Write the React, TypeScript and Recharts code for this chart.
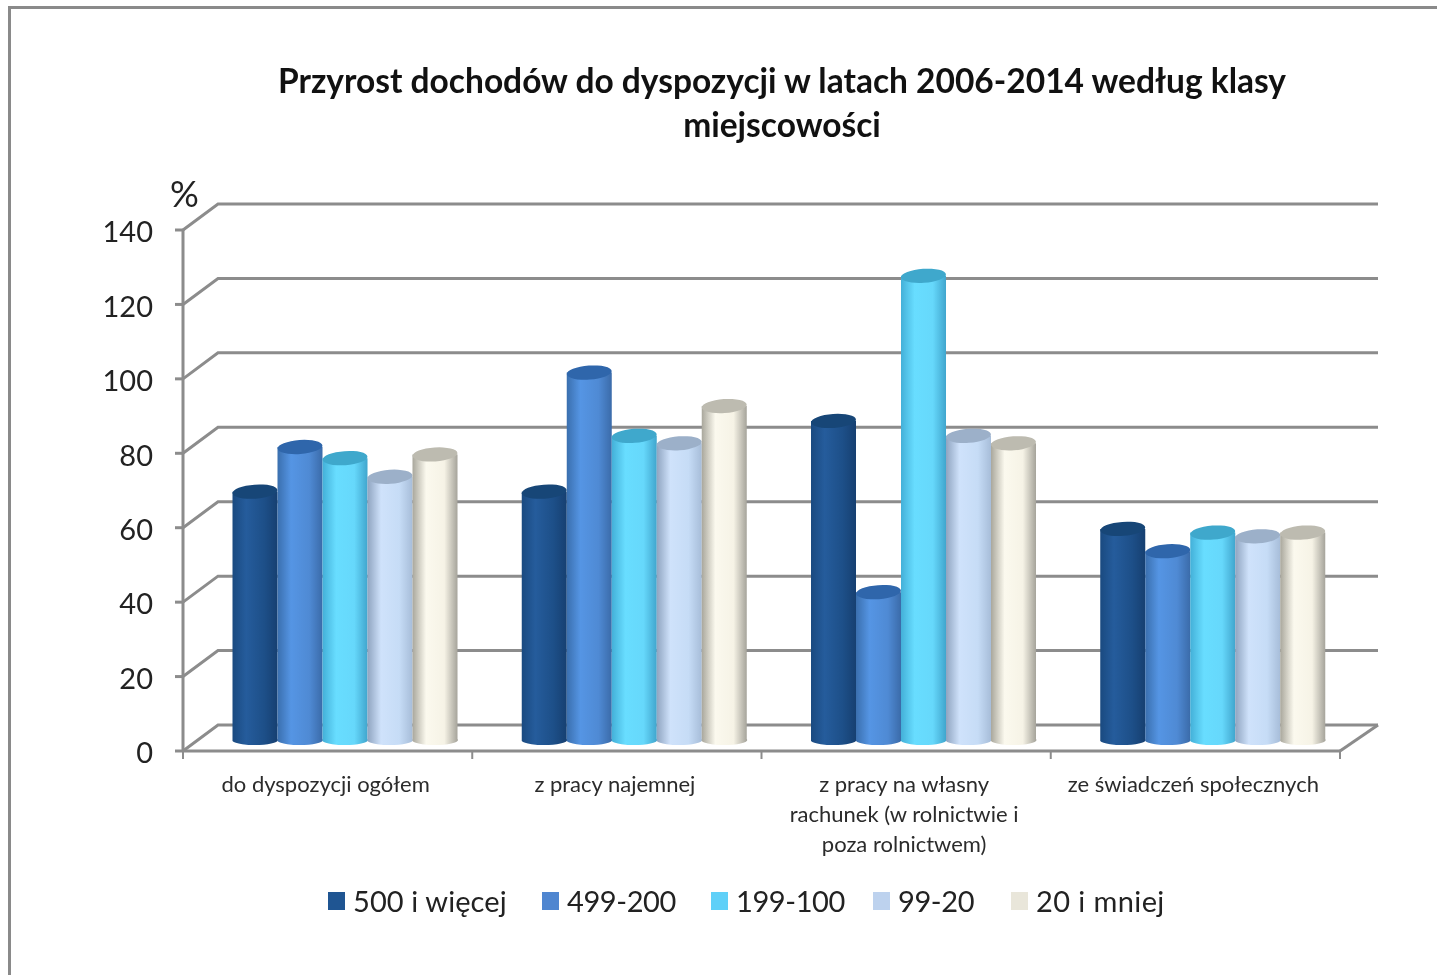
import React from 'react';
import { BarChart, Bar, XAxis, YAxis, CartesianGrid, Legend } from 'recharts';

const categories = [
  'do dyspozycji ogółem',
  'z pracy najemnej',
  'z pracy na własny\nrachunek (w rolnictwie i\npoza rolnictwem)',
  'ze świadczeń społecznych',
];
const seriesNames = ['500 i więcej', '499-200', '199-100', '99-20', '20 i mniej'];
const s500 = [67, 67, 86, 57];
const s499 = [79, 99, 40, 51];
const s199 = [76, 82, 125, 56];
const s99 = [71, 80, 82, 55];
const s20 = [77, 90, 80, 56];
const yTicks = [0, 20, 40, 60, 80, 100, 120, 140];

const data = categories.map((name, i) => ({
  name,
  a: s500[i],
  b: s499[i],
  c: s199[i],
  d: s99[i],
  e: s20[i],
}));

const keys = ['a', 'b', 'c', 'd', 'e'];
const legendColors = ['#1f5592', '#4f86d0', '#5fd0f8', '#bdd2ee', '#e9e6da'];
const topColors = ['#174677', '#2f66ab', '#3fa8cc', '#9cb0c9', '#bdbbb0'];
const gradients = [
  ['#1a4a80', '#255c9c', '#1d4f88', '#163f70'],
  ['#3a6fae', '#5595e4', '#4f8ad4', '#3a6aa8'],
  ['#43b0d8', '#68ddff', '#66d8fb', '#3fa4cc'],
  ['#8fa4c0', '#cfe2fb', '#c6dcf6', '#a6bcd8'],
  ['#a9a79c', '#fbf9ee', '#f6f3e6', '#a3a198'],
];

const axisGray = '#8c8c8c';
const FONT = 'Lato, sans-serif';
const BAND = 1157 / 4;

// perspective: back wall is shifted from the front axis plane
const DEPTH_X = 35;
const DEPTH_Y = 26;

const GridLine = (p: any) => {
  const isFloor = p.y1 > 740;
  return (
    <g key={p.key}>
      <polyline
        points={`${p.x1},${p.y1} ${p.x1 + DEPTH_X},${p.y1 - DEPTH_Y} ${p.x2 + 38},${p.y1 - DEPTH_Y}`}
        fill="none"
        stroke={axisGray}
        strokeWidth={3}
      />
      {isFloor && (
        <line x1={p.x2} y1={p.y1} x2={p.x2 + 38} y2={p.y1 - DEPTH_Y} stroke={axisGray} strokeWidth={3} />
      )}
    </g>
  );
};

const makeCylinder = (idx: number) => (p: any) => {
  const x = p.x + 17.5;
  const w = p.width;
  const top = p.y - 10;
  const base = p.y + p.height - 10;
  const rx = w / 2;
  const ry = 7;
  const cx = x + rx;
  return (
    <g>
      <path
        d={`M${x},${top} L${x},${base} A${rx},5 0 0 0 ${x + w},${base - 2} L${x + w},${top} Z`}
        fill={`url(#cyl${idx})`}
      />
      <ellipse cx={cx} cy={top} rx={rx} ry={ry} fill={topColors[idx]} transform={`rotate(-4 ${cx} ${top})`} />
    </g>
  );
};

const CategoryTick = (p: any) => {
  const { x, payload, index } = p;
  const lines = String(payload.value).split('\n');
  const left = x - BAND / 2;
  return (
    <g>
      <line x1={left} y1={751} x2={left} y2={759} stroke={axisGray} strokeWidth={2} />
      {index === categories.length - 1 && (
        <line x1={left + BAND} y1={751} x2={left + BAND} y2={759} stroke={axisGray} strokeWidth={2} />
      )}
      {lines.map((l: string, i: number) => (
        <text key={i} x={x - 2} y={792 + i * 30} textAnchor="middle" fontSize={22} fontFamily={FONT} fill="#2b2b2b">
          {l}
        </text>
      ))}
    </g>
  );
};

const legendX = [328, 542, 711, 873, 1011];

const LegendRow = () => (
  <div style={{ position: 'relative', width: 1437, height: 40, fontFamily: FONT }}>
    {seriesNames.map((n, i) => (
      <div key={n} style={{ position: 'absolute', left: legendX[i], top: 0, height: 40, whiteSpace: 'nowrap' }}>
        <span
          style={{
            position: 'absolute',
            left: 0,
            top: 12,
            width: 17,
            height: 18,
            background: legendColors[i],
          }}
        />
        <span style={{ position: 'absolute', left: 25, top: 1, fontSize: 29, lineHeight: '40px', color: '#222', letterSpacing: i === 4 ? 0.4 : i === 0 ? 0.1 : -0.4 }}>
          {n}
        </span>
      </div>
    ))}
  </div>
);

export default function App() {
  return (
    <div style={{ position: 'absolute', left: 0, top: 0, width: 1437, height: 975, background: '#fff', overflow: 'hidden', filter: 'blur(0.5px)' }}>
      <div
        style={{
          position: 'absolute',
          left: 8,
          top: 6,
          width: 1440,
          height: 1000,
          border: '3px solid #8a8a8a',
          boxSizing: 'border-box',
        }}
      />
      <div
        style={{
          position: 'absolute',
          left: 132,
          top: 58,
          width: 1300,
          textAlign: 'center',
          fontFamily: FONT,
          fontWeight: 700,
          fontSize: 33.5,
          lineHeight: '44px',
          color: '#111',
        }}
      >
        Przyrost dochodów do dyspozycji w latach 2006-2014 według klasy
        <br />
        miejscowości
      </div>
      <div style={{ position: 'absolute', left: 170, top: 171, fontFamily: FONT, fontSize: 36, color: '#222' }}>%</div>
      <div style={{ position: 'absolute', left: 0, top: 0 }}>
        <BarChart
          width={1437}
          height={975}
          data={data}
          margin={{ top: 230, right: 97, bottom: 0, left: 103 }}
          barCategoryGap={32}
          barGap={0}
        >
          <defs>
            {gradients.map((g, i) => (
              <linearGradient key={i} id={`cyl${i}`} x1="0" y1="0" x2="1" y2="0">
                <stop offset="0%" stopColor={g[0]} />
                <stop offset="30%" stopColor={g[1]} />
                <stop offset="70%" stopColor={g[2]} />
                <stop offset="100%" stopColor={g[3]} />
              </linearGradient>
            ))}
          </defs>
          <CartesianGrid horizontal={GridLine} vertical={false} />
          <XAxis
            dataKey="name"
            height={184}
            interval={0}
            axisLine={{ stroke: axisGray, strokeWidth: 3 }}
            tickLine={false}
            tick={CategoryTick}
          />
          <YAxis
            width={80}
            domain={[0, 140]}
            ticks={yTicks}
            interval={0}
            axisLine={{ stroke: axisGray, strokeWidth: 3 }}
            tickLine={{ stroke: axisGray, strokeWidth: 3 }}
            tickSize={8}
            tickMargin={22}
            tick={{ fontSize: 29, fontFamily: FONT, fill: '#222', dy: 2 }}
          />
          {keys.map((k, i) => (
            <Bar key={k} dataKey={k} name={seriesNames[i]} barSize={45} isAnimationActive={false} shape={makeCylinder(i)} />
          ))}
          <Legend content={LegendRow} wrapperStyle={{ position: 'absolute', left: 0, top: 880, width: 1437 }} />
        </BarChart>
      </div>
    </div>
  );
}
